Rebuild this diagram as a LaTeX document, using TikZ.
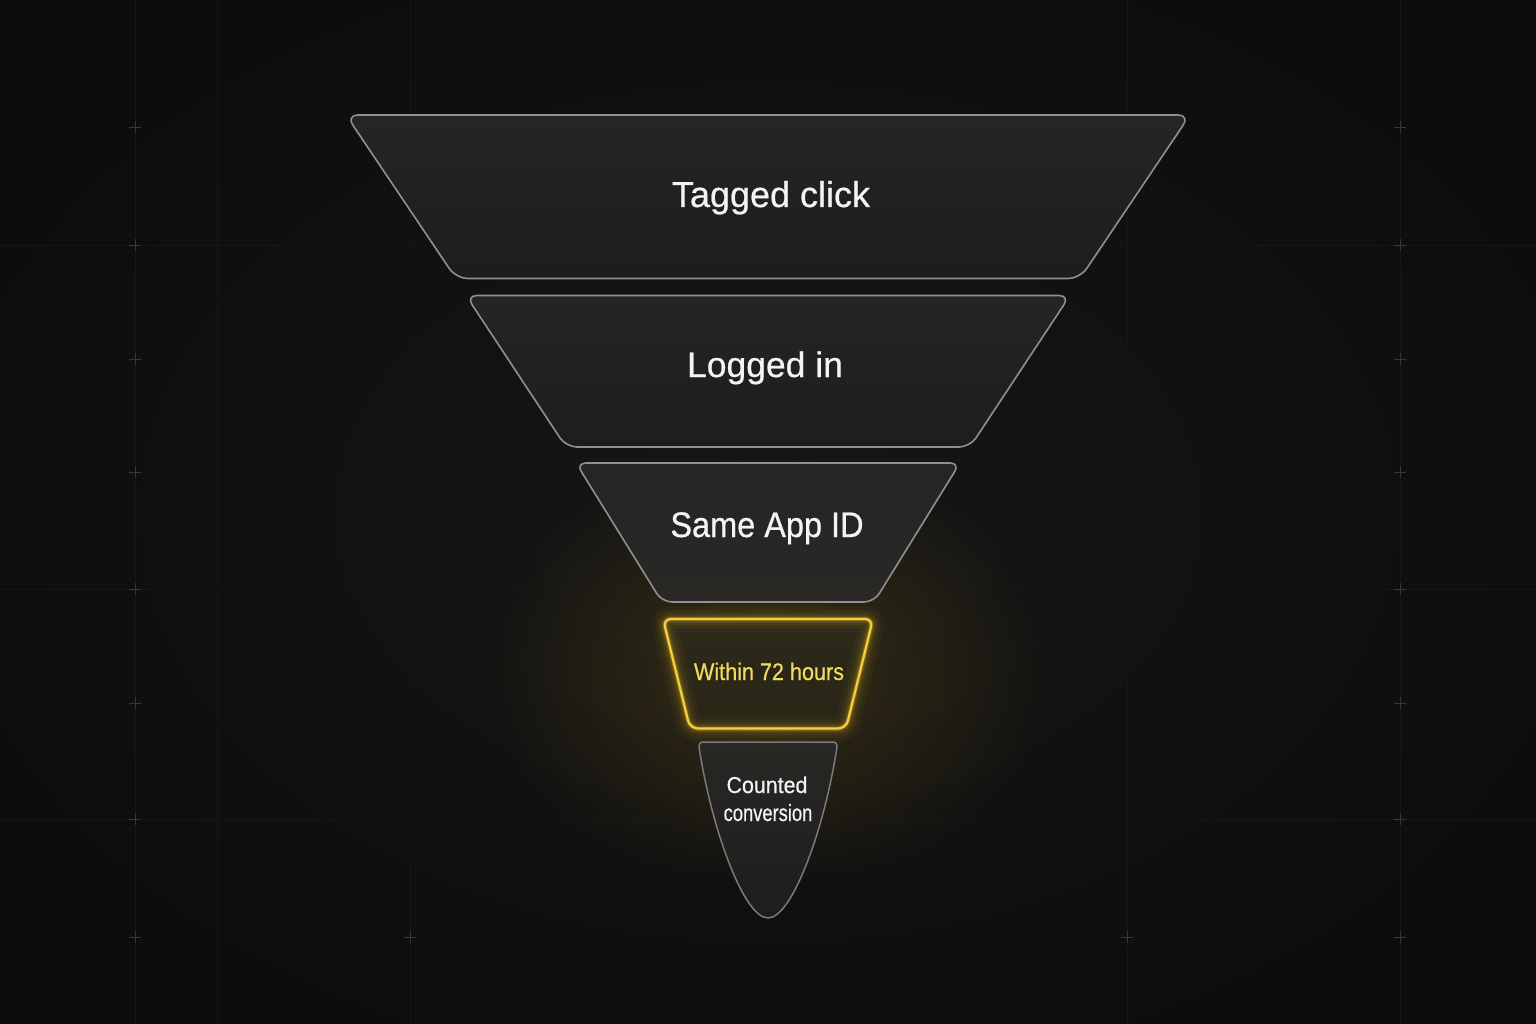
\documentclass[tikz,border=0pt]{standalone}
\usepackage{fontspec}
\setmainfont[FakeBold=0.6]{Liberation Sans}
\newfontfamily\condfont[FakeStretch=0.9,FakeBold=0.5]{Liberation Sans}
\newfontfamily\samefont[FakeStretch=0.915,FakeBold=0.6]{Liberation Sans}
\newfontfamily\countfont[FakeStretch=0.93,FakeBold=0.5]{Liberation Sans}
\newfontfamily\convfont[FakeStretch=0.78,FakeBold=0.5]{Liberation Sans}
\usetikzlibrary{fadings}
\definecolor{bgin}{HTML}{161616}
\definecolor{bgout}{HTML}{0C0C0C}
\definecolor{gridc}{HTML}{161616}
\definecolor{crossc}{HTML}{383838}
\definecolor{stagestroke}{HTML}{909090}
\definecolor{fillA}{HTML}{252525}
\definecolor{fillB}{HTML}{1D1D1D}
\definecolor{fillC}{HTML}{2A2825}
\definecolor{ystroke}{HTML}{F4D040}
\definecolor{yglowc}{HTML}{E8B820}
\definecolor{yfillA}{HTML}{2E2A1A}
\definecolor{yfillB}{HTML}{282416}
\definecolor{ytext}{HTML}{F2DC5C}
\definecolor{labelwhite}{HTML}{F4F4F4}
\definecolor{conestroke}{HTML}{7A7A7A}
\tikzfading[name=glowfade, inner color=transparent!0, outer color=transparent!100]
\begin{document}
\begin{tikzpicture}[x=1pt,y=-1pt,
  stage/.style={draw=stagestroke, line width=1.6, line join=round, rounded corners=#1},
  gridline/.style={draw=gridc, line width=0.8},
  crossmark/.style={draw=crossc, line width=0.8},
  lbl/.style={text=labelwhite, anchor=base, inner sep=0pt},
  yglow/.style={draw=yglowc, line join=round, rounded corners=8}]
% background
\useasboundingbox (0,0) rectangle (1536,1024);
\shade[inner color=bgin, outer color=bgout] (-200,-150) rectangle (1736,1174);
% faint grid
\foreach \gx in {135,217,410,1127,1400} {\draw[gridline] (\gx,0) -- (\gx,1024);}
\foreach \gy in {245,589,819} {\draw[gridline] (0,\gy) -- (1536,\gy);}
\foreach \gy in {127,245,359,472,589,703,819,937} {
  \draw[crossmark] (135,\gy-6) -- (135,\gy+6) (129,\gy) -- (141,\gy);
  \draw[crossmark] (1400,\gy-6) -- (1400,\gy+6) (1394,\gy) -- (1406,\gy);
}
\foreach \gx in {410,1127} {\draw[crossmark] (\gx,931) -- (\gx,943) (\gx-6,937) -- (\gx+6,937);}
% warm glow
\fill[yglowc, path fading=glowfade, fill opacity=0.17] (768,672) ellipse (290 and 220);
% stage 1
\draw[stage=12, top color=fillA, bottom color=fillB] (346,115) -- (1190,115) -- (1080,278.5) -- (456,278.5) -- cycle;
% stage 2
\draw[stage=11, top color=fillA, bottom color=fillB] (466,295.5) -- (1070,295.5) -- (970,447) -- (566,447) -- cycle;
% stage 3
\draw[stage=10, top color=fillA, bottom color=fillC] (576,463) -- (960,463) -- (874,602) -- (662,602) -- cycle;
% stage 5 cone
\draw[draw=conestroke, line width=1.5, top color=fillC, bottom color=fillB]
  (768,918) .. controls (744,918) and (712,830) .. (699.5,750)
  .. controls (698,742) and (700,742) .. (707,742) -- (829,742)
  .. controls (836,742) and (838,742) .. (836.5,750)
  .. controls (824,830) and (792,918) .. (768,918) -- cycle;
% stage 4 fill, glow, stroke
\fill[rounded corners=8, top color=yfillA, bottom color=yfillB] (663,619) -- (873,619) -- (846,728.5) -- (690,728.5) -- cycle;
\foreach \w/\o in {26/0.035,18/0.055,12/0.08,7/0.14,4/0.28} {
  \draw[yglow, line width=\w, draw opacity=\o] (663,619) -- (873,619) -- (846,728.5) -- (690,728.5) -- cycle;
}
\draw[rounded corners=8, line join=round, draw=ystroke, line width=2.2] (663,619) -- (873,619) -- (846,728.5) -- (690,728.5) -- cycle;
% labels
\node[lbl, font=\fontsize{36}{40}\selectfont] (tagged) at (771,207) {Tagged click};
\node[lbl, font=\fontsize{35.5}{40}\selectfont] (logged) at (765,377) {Logged in};
\node[lbl, font=\samefont\fontsize{35.5}{40}\selectfont] (sameapp) at (767,537) {Same App ID};
\node[lbl, text=ytext, font=\condfont\fontsize{24}{28}\selectfont] (within) at (769,680) {Within 72 hours};
\node[lbl, font=\countfont\fontsize{23}{27}\selectfont] (counted) at (767,793) {Counted};
\node[lbl, font=\convfont\fontsize{23.5}{27}\selectfont] (conv) at (768,821) {conversion};
\end{tikzpicture}
\end{document}
